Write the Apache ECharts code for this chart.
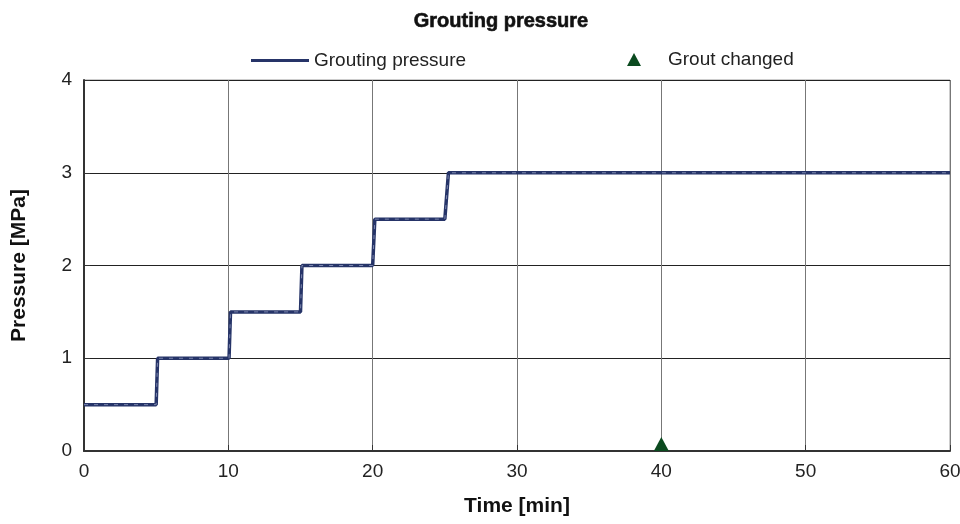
<!DOCTYPE html>
<html>
<head>
<meta charset="utf-8">
<script src="https://cdn.jsdelivr.net/npm/echarts@6/dist/echarts.min.js"></script>
<style>
  html, body { margin: 0; padding: 0; background: #fff; }
  #chart { width: 960px; height: 524px; }
</style>
</head>
<body>
<div id="chart"></div>
<script>
// Pressure steps over time (stepped in 0.5 MPa increments every ~5 min)
const timeMin = [0, 5.0, 5.1, 10.05, 10.15, 15.0, 15.1, 20.0, 20.15, 25.0, 25.25, 60];
const pressureMPa = [0.5, 0.5, 1.0, 1.0, 1.5, 1.5, 2.0, 2.0, 2.5, 2.5, 3.0, 3.0];

// Moments when the grout mix was changed
const groutChangeTime = [40];
const groutChangePressure = [0];

const xTicks = [0, 10, 20, 30, 40, 50, 60];
const yTicks = [0, 1, 2, 3, 4];

const lineColor = '#263468';
const markerColor = '#0b4a1f';
const font = '"Liberation Sans", Arial, sans-serif';

const pressurePoints = timeMin.map((t, i) => [t, pressureMPa[i]]);
const groutPoints = groutChangeTime.map((t, i) => [t, groutChangePressure[i]]);

const chart = echarts.init(document.getElementById('chart'), null, { renderer: 'canvas' });

chart.setOption({
  animation: false,
  backgroundColor: '#ffffff',
  title: {
    text: 'Grouting pressure',
    left: 496,
    textAlign: 'center',
    top: 6,
    textStyle: {
      fontFamily: font,
      fontWeight: 'bold',
      fontSize: 20,
      color: '#111',
      textBorderColor: '#111',
      textBorderWidth: 0.6
    }
  },
  legend: [
    {
      data: [{ name: 'Grouting pressure', icon: 'rect' }],
      left: 246,
      top: 46,
      itemWidth: 58,
      itemHeight: 3,
      itemGap: 0,
      textStyle: { fontFamily: font, fontSize: 19, color: '#222', padding: [0, 0, 0, 0] }
    },
    {
      data: [{ name: 'Grout changed', icon: 'triangle' }],
      left: 622,
      top: 45,
      itemWidth: 14,
      itemHeight: 13,
      itemStyle: { color: markerColor, opacity: 1 },
      textStyle: { fontFamily: font, fontSize: 19, color: '#222', padding: [0, 0, 0, 22] }
    }
  ],
  grid: {
    left: 84,
    right: 10,
    top: 80,
    bottom: 73,
    containLabel: false,
    outerBoundsMode: 'none',
    show: true,
    borderColor: '#999',
    borderWidth: 1
  },
  xAxis: {
    type: 'value',
    min: xTicks[0],
    max: xTicks[xTicks.length - 1],
    interval: 10,
    name: 'Time [min]',
    nameLocation: 'middle',
    nameGap: 45,
    nameTextStyle: { fontFamily: font, fontWeight: 'bold', fontSize: 21, color: '#111' },
    axisLine: { show: true, lineStyle: { color: '#333', width: 2 } },
    axisTick: { show: true, inside: true, length: 6, lineStyle: { color: '#333', width: 1 } },
    axisLabel: { fontFamily: font, fontSize: 19, color: '#222', margin: 11 },
    splitLine: { show: true, lineStyle: { color: '#777', width: 1 } }
  },
  yAxis: {
    type: 'value',
    min: yTicks[0],
    max: yTicks[yTicks.length - 1],
    interval: 1,
    name: 'Pressure [MPa]',
    nameLocation: 'middle',
    nameGap: 54,
    nameRotate: 90,
    nameTextStyle: { fontFamily: font, fontWeight: 'bold', fontSize: 21, color: '#111' },
    axisLine: { show: true, lineStyle: { color: '#333', width: 2 } },
    axisTick: { show: true, inside: true, length: 6, lineStyle: { color: '#333', width: 1 } },
    axisLabel: { fontFamily: font, fontSize: 19, color: '#222', margin: 12 },
    splitLine: { show: true, lineStyle: { color: '#222', width: 1 } }
  },
  series: [
    {
      name: 'Grouting pressure',
      type: 'line',
      data: pressurePoints,
      showSymbol: false,
      symbol: 'none',
      color: lineColor,
      lineStyle: { color: lineColor, width: 3.5 },
      z: 3
    },
    {
      // faint inner stripe along the pressure trace
      name: 'pressure-stripe',
      type: 'line',
      data: pressurePoints,
      symbol: 'none',
      silent: true,
      lineStyle: { color: '#7c86ad', width: 1, type: [4, 6] },
      z: 4
    },
    {
      name: 'Grout changed',
      type: 'scatter',
      data: groutPoints,
      symbol: 'triangle',
      symbolSize: [15, 14],
      symbolOffset: [0, -7],
      color: markerColor,
      itemStyle: { color: markerColor, opacity: 1 },
      z: 5
    }
  ]
});
</script>
</body>
</html>
